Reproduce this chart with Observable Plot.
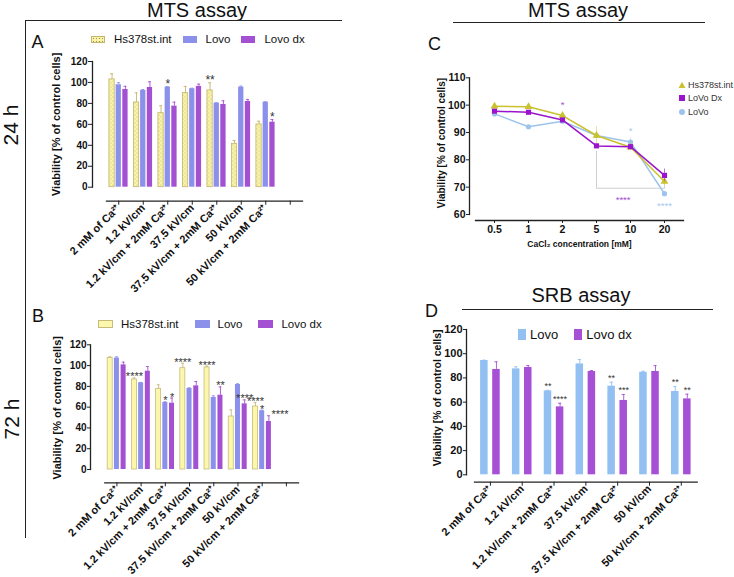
<!DOCTYPE html>
<html><head><meta charset="utf-8">
<script src="https://cdn.jsdelivr.net/npm/d3@7"></script>
<script src="https://cdn.jsdelivr.net/npm/@observablehq/plot@0.6"></script>
<style>
body{margin:0;background:#fff;font-family:"Liberation Sans",Arial,Helvetica,sans-serif;}
#fig{position:relative;width:734px;height:577px;overflow:hidden;background:#fff;color:#111;}
.hline{position:absolute;height:0;border-top:1.3px solid #222;}
.vline{position:absolute;width:0;border-left:1.3px solid #222;}
.title{position:absolute;font-size:20px;line-height:20px;text-align:center;white-space:nowrap;}
.letter{position:absolute;font-size:18px;line-height:18px;}
.hours{position:absolute;font-size:21px;line-height:18px;transform:translate(-50%,-50%) rotate(-90deg);white-space:nowrap;}
.legend{position:absolute;display:flex;align-items:center;white-space:nowrap;}
.sw{display:inline-block;box-sizing:border-box;}
.plotwrap{position:absolute;}
</style></head>
<body><div id="fig"></div>
<script>
const FONT = '"Liberation Sans", Arial, Helvetica, sans-serif';

// ---------- data ----------
const treatments = ["2 mM of Ca²⁺", "1.2 kV/cm", "1.2 kV/cm + 2mM Ca²⁺", "37.5 kV/cm",
  "37.5 kV/cm + 2mM Ca²⁺", "50 kV/cm", "50 kV/cm + 2mM Ca²⁺"];
const linesMTS = ["Hs378st.int", "Lovo", "Lovo dx"];
const linesSRB = ["Lovo", "Lovo dx"];
const viabilityTicks = [0, 20, 40, 60, 80, 100, 120];

// Panel A: MTS 24 h
const aHs = [102.9, 80.9, 70.7, 89.8, 92.4, 41.4, 59.9];
const aHsErr = [5.4, 9.2, 7.0, 6.4, 7.3, 3.2, 3.1];
const aLovo = [97.8, 92.4, 95.5, 94.0, 80.3, 95.5, 81.2];
const aLovoErr = [2.0, 0.8, 0.5, 0.5, 0.3, 1.0, 0.3];
const aDx = [93.3, 95.2, 77.4, 96.2, 79.0, 81.8, 62.1];
const aDxErr = [3.0, 5.4, 3.8, 2.2, 3.5, 2.0, 2.5];
const aStars = [{g: 2, s: 1, t: "*"}, {g: 4, s: 0, t: "**"}, {g: 6, s: 2, t: "*"}];

// Panel B: MTS 72 h
const bHs = [107.2, 86.6, 77.6, 97.5, 98.2, 51.0, 60.6];
const bHsErr = [1.2, 1.6, 3.9, 4.8, 1.3, 6.4, 3.9];
const bLovo = [107.2, 83.4, 64.5, 78.0, 69.3, 81.8, 56.5];
const bLovoErr = [1.2, 0.4, 0.6, 0.6, 1.6, 0.7, 0.6];
const bDx = [100.7, 94.6, 63.8, 80.5, 71.5, 63.2, 46.2];
const bDxErr = [2.6, 4.5, 5.0, 4.2, 8.0, 3.8, 5.5];
const bStars = [{g: 1, s: 0, t: "****"}, {g: 2, s: 1, t: "*"}, {g: 2, s: 2, t: "*"},
  {g: 3, s: 0, t: "****"}, {g: 4, s: 0, t: "****"}, {g: 4, s: 2, t: "**"},
  {g: 5, s: 2, t: "****"}, {g: 6, s: 0, t: "****"}, {g: 6, s: 1, t: "*"}];
const bSideStars = [{g: 6, s: 2, t: "****"}];

// Panel C: MTS, CaCl2 dose response
const concC = ["0.5", "1", "2", "5", "10", "20"];
const linesC = ["Hs378st.int", "LoVo Dx", "LoVo"];
const cHs = [99.6, 99.4, 96.2, 88.9, 84.6, 72.1];
const cHsErr = [0.5, 0.5, 0.8, 3.2, 1.0, 1.2];
const cDx = [97.8, 97.4, 94.6, 85.1, 84.8, 74.3];
const cDxErr = [0.6, 0.6, 0.6, 0.8, 0.8, 2.3];
const cLovo = [96.8, 92.1, 94.1, 88.9, 86.5, 67.6];
const cLovoErr = [0.5, 0.5, 0.5, 1.2, 1.5, 0.8];
const cTicks = [60, 70, 80, 90, 100, 110];
const cBracket = [{c: "5", v: 83.2}, {c: "5", v: 69.6}, {c: "20", v: 69.6}, {c: "20", v: 76.7}];
const cStarsCentered = [{c: "2", v: 99.9, t: "*", s: 1}, {c: "10", v: 90.4, t: "*", s: 2}, {c: "20", v: 63.3, t: "****", s: 2}];
const cStarsEnd = [{c: "10", v: 65.2, t: "****", s: 1}];

// Panel D: SRB
const dLovo = [94.4, 87.5, 69.3, 91.6, 73.2, 84.7, 68.8];
const dLovoErr = [0.3, 1.7, 0.5, 3.6, 3.3, 0.8, 4.1];
const dDx = [87.0, 88.6, 56.1, 85.3, 61.4, 85.3, 62.7];
const dDxErr = [6.3, 1.6, 3.0, 0.8, 4.9, 4.9, 3.9];
const dStars = [{g: 2, s: 0, t: "**"}, {g: 2, s: 1, t: "****"}, {g: 4, s: 0, t: "**"},
  {g: 4, s: 1, t: "***"}, {g: 6, s: 0, t: "**"}, {g: 6, s: 1, t: "**"}];

const yLabel = "Viability [% of control cells]";

// ---------- helpers ----------
const fig = document.getElementById("fig");
function addDiv(cls, style, text) {
  const d = document.createElement("div");
  d.className = cls;
  Object.assign(d.style, style);
  if (text != null) d.textContent = text;
  fig.appendChild(d);
  return d;
}
function mount(svg, left, top, width) {
  const w = addDiv("plotwrap", {left: left + "px", top: top + "px", width: width + "px"});
  w.appendChild(svg);
}
function addDefs(svg, html) {
  const defs = document.createElementNS("http://www.w3.org/2000/svg", "defs");
  defs.innerHTML = html;
  svg.insertBefore(defs, svg.firstChild);
}

function barPanel(cfg) {
  const rows = cfg.series.flatMap((s, si) => cfg.values[si].map((v, g) => ({g, si, v, e: cfg.errors[si][g]})));
  const cx = d => d.g + cfg.offsets[d.si];
  const top = (g, si) => rows.find(d => d.g === g && d.si === si);
  const marks = [];
  cfg.series.forEach((s, si) => {
    const sub = rows.filter(d => d.si === si);
    marks.push(Plot.ruleX(sub, {x: cx, y1: "v", y2: d => d.v + d.e, stroke: cfg.errColors[si], strokeWidth: 0.9}));
    marks.push(Plot.ruleY(sub, {y: d => d.v + d.e, x1: d => cx(d) - cfg.capW, x2: d => cx(d) + cfg.capW, stroke: cfg.errColors[si], strokeWidth: 0.9}));
    marks.push(Plot.rect(sub, {x1: d => cx(d) - cfg.barW / 2, x2: d => cx(d) + cfg.barW / 2, y1: 0, y2: "v",
      fill: cfg.fills[si], stroke: cfg.strokes[si], strokeWidth: 0.8}));
  });
  marks.push(Plot.text(cfg.stars, {
    x: d => cx(top(d.g, d.s)), y: d => { const r = top(d.g, d.s); return r.v + r.e; },
    text: "t", fontSize: cfg.starSize, fontWeight: "normal", fill: "#333", lineAnchor: "middle", textAnchor: "middle", dy: cfg.starDy
  }));
  if (cfg.sideStars) marks.push(Plot.text(cfg.sideStars, {
    x: d => cx(top(d.g, d.s)) + cfg.barW / 2, y: d => { const r = top(d.g, d.s); return r.v + r.e; },
    text: "t", fontSize: cfg.starSize, fontWeight: "normal", fill: "#333", lineAnchor: "middle", textAnchor: "start", dy: cfg.starDy
  }));
  marks.push(
    Plot.frame({anchor: "left", insetBottom: cfg.insetBottom, stroke: "#222", strokeWidth: 1.3}),
    Plot.frame({anchor: "bottom", insetLeft: cfg.insetLeft, stroke: "#222", strokeWidth: 1.3}),
    Plot.axisY({ticks: viabilityTicks, tickSize: cfg.yTickSize, tickPadding: 1, fontSize: cfg.tickFont, label: null, stroke: "#222"}),
    Plot.axisX({ticks: d3.range(cfg.slots), tickFormat: i => cfg.cats[i] ?? "", tickRotate: -45,
      tickSize: 4, tickPadding: 1, fontSize: cfg.xFont, label: null, stroke: "#222"}),
    Plot.text([yLabel], {text: d => d, frameAnchor: "left", rotate: -90, lineAnchor: "top", textAnchor: "middle",
      dx: cfg.yLabelDx, dy: cfg.yLabelDy, fontSize: cfg.labelFont})
  );
  return Plot.plot({
    width: cfg.width, height: cfg.height,
    marginLeft: cfg.marginLeft, marginTop: cfg.marginTop, marginRight: cfg.marginRight, marginBottom: cfg.marginBottom,
    x: {type: "linear", domain: [-0.5, cfg.slots - 0.5], insetLeft: cfg.insetLeft},
    y: {domain: [0, 120], insetBottom: cfg.insetBottom},
    style: {fontFamily: FONT, fontWeight: "bold", background: "transparent", overflow: "visible", color: "#111"},
    marks
  });
}

// ---------- panel A ----------
const svgA = barPanel({
  cats: treatments, series: linesMTS, values: [aHs, aLovo, aDx], errors: [aHsErr, aLovoErr, aDxErr],
  fills: ["url(#dotsA)", "#8b90ea", "#a450d2"], strokes: ["#c5b46c", "none", "none"],
  errColors: ["#c5b46c", "#8b90ea", "#a450d2"],
  offsets: [-0.273, 0, 0.273], barW: 0.216, capW: 0.06, slots: 8,
  stars: aStars, starSize: 12, starDy: -2.5,
  width: 320, height: 250, marginLeft: 92, marginTop: 21, marginRight: 18, marginBottom: 89.3,
  insetLeft: 14, insetBottom: 14, yTickSize: 4, tickFont: 10, xFont: 11, labelFont: 11,
  yLabelDx: -40, yLabelDy: -7
});
addDefs(svgA, '<pattern id="dotsA" width="4" height="4" patternUnits="userSpaceOnUse">' +
  '<rect width="4" height="4" fill="#f8f3a6"/><circle cx="1" cy="1" r="0.45" fill="#9a9460"/>' +
  '<circle cx="3" cy="3" r="0.45" fill="#9a9460"/></pattern>');
mount(svgA, 0, 40, 320);

// ---------- panel B ----------
const svgB = barPanel({
  cats: treatments, series: linesMTS, values: [bHs, bLovo, bDx], errors: [bHsErr, bLovoErr, bDxErr],
  fills: ["#fbf8ad", "#8b90ea", "#a450d2"], strokes: ["#c9ba7c", "none", "none"],
  errColors: ["#c9ba7c", "#8b90ea", "#a450d2"],
  offsets: [-0.277, 0, 0.277], barW: 0.207, capW: 0.06, slots: 8,
  stars: bStars, sideStars: bSideStars, starSize: 11, starDy: -1,
  width: 320, height: 257, marginLeft: 90, marginTop: 24.3, marginRight: 22, marginBottom: 94.7,
  insetLeft: 14.3, insetBottom: 13.3, yTickSize: 3, tickFont: 10, xFont: 11, labelFont: 11,
  yLabelDx: -37, yLabelDy: -6
});
mount(svgB, 0, 320, 320);

// ---------- panel D ----------
const svgD = barPanel({
  cats: treatments, series: linesSRB, values: [dLovo, dDx], errors: [dLovoErr, dDxErr],
  fills: ["#92c0f2", "#a650d6"], strokes: ["none", "none"], errColors: ["#92c0f2", "#a650d6"],
  offsets: [-0.19, 0.19], barW: 0.236, capW: 0.05, slots: 7,
  stars: dStars, starSize: 9, starDy: -4.5,
  width: 320, height: 267, marginLeft: 66, marginTop: 19, marginRight: 23.3, marginBottom: 95.3,
  insetLeft: 8, insetBottom: 7.4, yTickSize: 3, tickFont: 11, xFont: 11, labelFont: 10.5,
  yLabelDx: -33, yLabelDy: -8
});
mount(svgD, 400, 310, 320);

// ---------- panel C ----------
const colorsC = ["#c9c12d", "#9b13cc", "#9cc4ec"];
const symbolsC = ["triangle", "square", "circle"];
const rowsC = [cHs, cDx, cLovo].flatMap((vals, si) => vals.map((v, i) => ({c: concC[i], si, v, e: [cHsErr, cDxErr, cLovoErr][si][i]})));
const marksC = [Plot.line(cBracket, {x: "c", y: "v", stroke: "#cfcfcf", strokeWidth: 1})];
[2, 0, 1].forEach(si => {
  const sub = rowsC.filter(d => d.si === si);
  marksC.push(Plot.ruleX(sub, {x: "c", y1: d => d.v - d.e, y2: d => d.v + d.e, stroke: colorsC[si], strokeOpacity: 0.45, strokeWidth: 1}));
  marksC.push(Plot.line(sub, {x: "c", y: "v", stroke: colorsC[si], strokeWidth: 1.5}));
  marksC.push(Plot.dot(sub, {x: "c", y: "v", symbol: symbolsC[si], fill: colorsC[si], r: si === 2 ? 2.6 : 2.9}));
});
const starColorsC = ["#c9c12d", "#a34fd6", "#a9c8ee"];
marksC.push(
  Plot.text(cStarsCentered, {x: "c", y: "v", text: "t", fill: d => starColorsC[d.s], fontSize: 9.5, fontWeight: "normal", lineAnchor: "middle"}),
  Plot.text(cStarsEnd, {x: "c", y: "v", text: "t", fill: d => starColorsC[d.s], fontSize: 9.5, fontWeight: "normal", lineAnchor: "middle", textAnchor: "end"}),
  Plot.frame({anchor: "left", insetBottom: 6, stroke: "#222", strokeWidth: 1.3}),
  Plot.frame({anchor: "bottom", insetLeft: 6, stroke: "#222", strokeWidth: 1.3}),
  Plot.axisY({ticks: cTicks, tickSize: 3, tickPadding: 1, fontSize: 10.5, label: null, stroke: "#222"}),
  Plot.axisX({tickSize: 3, tickPadding: 2, fontSize: 10.5, label: null, stroke: "#222"}),
  Plot.text([yLabel], {text: d => d, frameAnchor: "left", rotate: -90, lineAnchor: "top", textAnchor: "middle", dx: -32, dy: -6, fontSize: 10}),
  Plot.text(["CaCl₂ concentration [mM]"], {text: d => d, frameAnchor: "bottom", lineAnchor: "middle", textAnchor: "middle", dx: 3, dy: 24, fontSize: 8.5})
);
const svgC = Plot.plot({
  width: 300, height: 200, marginLeft: 49, marginTop: 17.3, marginRight: 37, marginBottom: 40,
  x: {type: "point", domain: concC, padding: 0.5, insetLeft: 6},
  y: {domain: [60, 110], insetBottom: 6},
  style: {fontFamily: FONT, fontWeight: "bold", background: "transparent", overflow: "visible", color: "#111"},
  marks: marksC
});
mount(svgC, 420, 60, 300);

// ---------- HTML decorations ----------
addDiv("title", {left: "97px", top: "0px", width: "200px"}, "MTS assay");
addDiv("title", {left: "478px", top: "0px", width: "200px"}, "MTS assay");
addDiv("title", {left: "481px", top: "284.5px", width: "200px"}, "SRB assay");
addDiv("hline", {left: "25px", top: "20px", width: "317px"});
addDiv("vline", {left: "25px", top: "20px", height: "518px"});
addDiv("hline", {left: "453px", top: "21.5px", width: "252px"});
addDiv("hline", {left: "462px", top: "308.5px", width: "251px"});
addDiv("letter", {left: "31.5px", top: "33px"}, "A");
addDiv("letter", {left: "32px", top: "306.5px"}, "B");
addDiv("letter", {left: "428px", top: "35px"}, "C");
addDiv("letter", {left: "425px", top: "301.5px"}, "D");
addDiv("hours", {left: "11px", top: "124.5px"}, "24 h");
addDiv("hours", {left: "11.5px", top: "419px"}, "72 h");

function legend(left, cy, labels, swatchStyles, o) {
  const d = addDiv("legend", {left: left + "px", top: (cy - 8) + "px", height: "16px", fontSize: o.fontSize + "px"});
  labels.forEach((lab, i) => {
    const item = document.createElement("span");
    item.style.cssText = "display:inline-flex;align-items:center;" + (i ? "margin-left:" + o.gap + "px;" : "");
    const sw = document.createElement("span");
    sw.className = "sw";
    sw.style.cssText = `width:${o.sw}px;height:${o.sh}px;margin-right:${o.sg}px;` + swatchStyles[i];
    const tx = document.createElement("span");
    tx.textContent = lab;
    item.append(sw, tx);
    d.appendChild(item);
  });
}
legend(91, 39, linesMTS, [
  "background-color:#f8f3a6;background-image:radial-gradient(#9a9460 0.55px, transparent 0.9px);background-size:3px 3px;border:1px solid #c5b46c;",
  "background:#8b90ea;", "background:#a450d2;"], {fontSize: 11.5, gap: 11, sw: 14, sh: 7, sg: 9});
legend(98, 323.8, linesMTS, [
  "background:#fbf8ad;border:1px solid #c9ba7c;", "background:#8b90ea;", "background:#a450d2;"],
  {fontSize: 11.5, gap: 16, sw: 15, sh: 8, sg: 8});
legend(518, 334.7, linesSRB, ["background:#92c0f2;", "background:#a650d6;"],
  {fontSize: 13, gap: 16, sw: 8, sh: 11, sg: 4});

// C legend
const markerSvg = [
  '<svg width="8" height="8"><path d="M4,0.8L7.4,7H0.6Z" fill="#c9c12d"/></svg>',
  '<svg width="8" height="8"><rect x="1" y="1" width="6" height="6" fill="#9b13cc"/></svg>',
  '<svg width="8" height="8"><circle cx="4" cy="4" r="3" fill="#9cc4ec"/></svg>'];
const legC = addDiv("legend", {left: "678px", top: "78px", flexDirection: "column", alignItems: "flex-start", fontSize: "9px", color: "#333"});
linesC.forEach((lab, i) => {
  const row = document.createElement("div");
  row.style.cssText = "display:flex;align-items:center;height:13.6px;";
  row.innerHTML = markerSvg[i] + '<span style="margin-left:2px">' + lab + '</span>';
  legC.appendChild(row);
});
</script></body></html>
